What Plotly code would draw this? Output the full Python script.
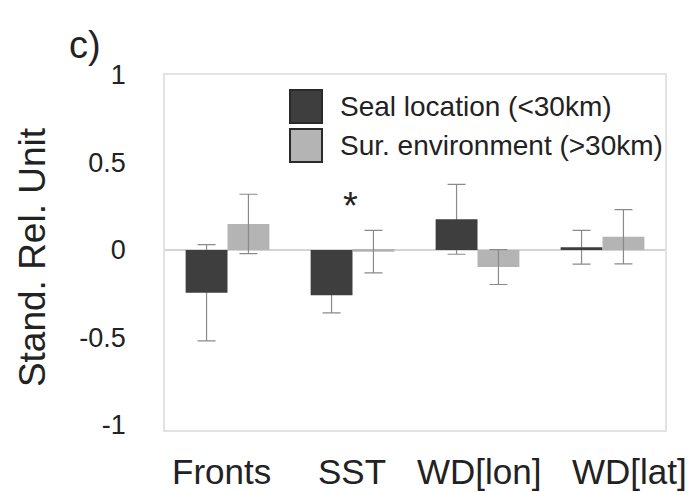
import plotly.graph_objects as go

categories = ["Fronts", "SST", "WD[lon]", "WD[lat]"]
seal_vals = [-0.245, -0.26, 0.175, 0.015]
seal_err = [0.275, 0.10, 0.20, 0.096]
env_vals = [0.148, -0.01, -0.098, 0.075]
env_err = [0.17, 0.122, 0.10, 0.155]
series_names = ["Seal location (<30km)", "Sur. environment (>30km)"]
star_cat = "SST"
star_y = 0.28
y_ticks = [-1, -0.5, 0, 0.5, 1]
y_tick_text = ["-1", "-0.5", "0", "0.5", "1"]
y_title = "Stand. Rel. Unit"
panel_label = "c)"

# horizontal pixel nudges of the category labels (as in the original layout)
label_shift = [-6, -1, 1, 27]

DARK = "#3e3e3e"
LIGHT = "#b4b4b4"
ERR = "#8a8a8a"
FONT = "Liberation Sans, Arial, sans-serif"

fig = go.Figure()
# error bars for seal series drawn first (hidden behind bars)
fig.add_trace(go.Bar(x=categories, y=seal_vals, offsetgroup="a",
                     marker=dict(color="rgba(0,0,0,0)", line=dict(width=0)),
                     error_y=dict(type="data", array=seal_err, color=ERR, thickness=1.2, width=9),
                     showlegend=False, hoverinfo="skip"))
fig.add_trace(go.Bar(x=categories, y=seal_vals, offsetgroup="a", name=series_names[0],
                     marker=dict(color=DARK, line=dict(width=0)), showlegend=False))
fig.add_trace(go.Bar(x=categories, y=env_vals, offsetgroup="b", name=series_names[1],
                     marker=dict(color=LIGHT, line=dict(width=0)),
                     error_y=dict(type="data", array=env_err, color=ERR, thickness=1.2, width=9),
                     showlegend=False))

fig.add_annotation(x=star_cat, y=star_y, text="*", showarrow=False, xref="x", yref="y",
                   font=dict(size=38, color="#222", family=FONT), yanchor="middle", yshift=-5, xshift=-2)

# category labels
for cat, sh in zip(categories, label_shift):
    fig.add_annotation(x=cat, xref="x", y=0, yref="paper", text=cat, showarrow=False,
                       xanchor="center", yanchor="top", xshift=sh, yshift=-20,
                       font=dict(size=35, color="#222", family=FONT))

# custom legend
for i, (col, name) in enumerate(zip([DARK, LIGHT], series_names)):
    y0 = 0.865 - i * 0.11
    fig.add_shape(type="rect", xref="paper", yref="paper", x0=0.25, x1=0.314, y0=y0, y1=y0 + 0.093,
                  fillcolor=col, line=dict(color="#2a2a2a", width=2))
    fig.add_annotation(xref="paper", yref="paper", x=0.345, y=y0 + 0.046, text=name,
                       showarrow=False, xanchor="left", yanchor="middle",
                       font=dict(size=28, color="#222", family=FONT))

fig.add_annotation(xref="paper", yref="paper", x=-0.196, y=1.085, text=panel_label, showarrow=False,
                   xanchor="left", yanchor="middle", font=dict(size=38, color="#222", family=FONT))

fig.add_annotation(xref="paper", yref="paper", x=-0.266, y=0.487, text=y_title, showarrow=False,
                   textangle=-90, xanchor="center", yanchor="middle",
                   font=dict(size=37, color="#222", family=FONT))

fig.update_layout(
    width=694, height=492,
    margin=dict(l=157, r=37, t=67, b=70, autoexpand=False),
    paper_bgcolor="white", plot_bgcolor="white",
    barmode="group", bargap=0.33, bargroupgap=0,
    font=dict(family=FONT, color="#222"),
)
fig.update_xaxes(range=[-0.5, 3.5], showgrid=False, showline=True, mirror=True, linecolor="#e2e2e2",
                 linewidth=1.5, showticklabels=False, ticks="")
fig.update_yaxes(range=[-1.03, 1.0], tickvals=y_ticks, ticktext=y_tick_text, showgrid=False,
                 zeroline=True, zerolinecolor="#d4d4d4", zerolinewidth=2,
                 showline=True, mirror=True, linecolor="#e2e2e2", linewidth=1.5,
                 tickfont=dict(size=27, family=FONT, color="#222"), ticks="", ticklabelstandoff=32)

fig.write_html("out.html")
